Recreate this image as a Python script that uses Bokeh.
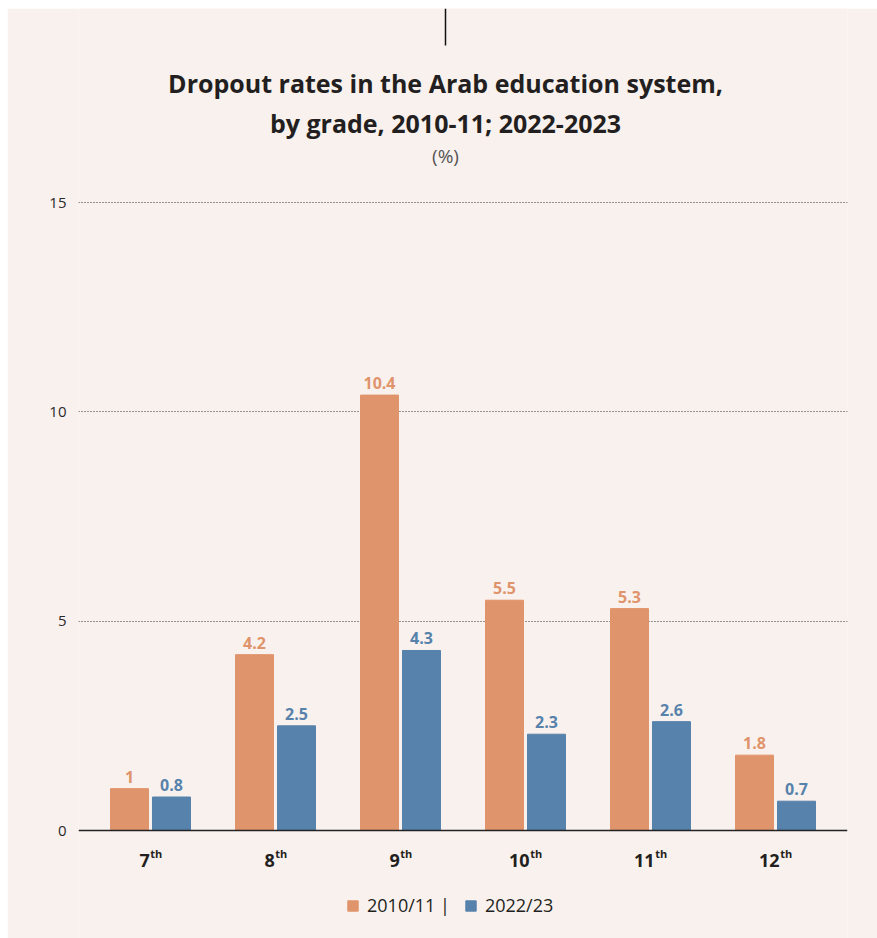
from bokeh.plotting import figure
from bokeh.models import (ColumnDataSource, Label, Legend, LegendItem, FixedTicker,
                          Range1d, Arrow, Span)
from bokeh.embed import file_html
from bokeh.resources import INLINE
from bokeh.core.properties import value

# ---- data ----
grades = ["7", "8", "9", "10", "11", "12"]
suffix = "th"
rates_2010 = [1, 4.2, 10.4, 5.5, 5.3, 1.8]
rates_2022 = [0.8, 2.5, 4.3, 2.3, 2.6, 0.7]
series_names = ["2010/11", "2022/23"]
y_ticks = [0, 5, 10, 15]
title_lines = ["Dropout rates in the Arab education system,",
               "by grade, 2010-11; 2022-2023"]
unit_text = "(%)"

ORANGE = "#e0946b"
BLUE = "#5782ab"
BG = "#f9f1ee"
DARK = "#231f20"
FONT = "Open Sans"

idx = list(range(len(grades)))
off = 0.168
bw = 0.304
src = ColumnDataSource(dict(
    x1=[i - off for i in idx], x2=[i + off for i in idx],
    v1=rates_2010, v2=rates_2022,
    t1=[f"{v:g}" for v in rates_2010], t2=[f"{v:g}" for v in rates_2022],
))

# frame spans full height; value axis 0..15 maps to the plotting band
px_per_unit = (830 - 202) / 15.0
y_lo = -(938 - 830) / px_per_unit
y_hi = 15 + (202 - 8) / px_per_unit

p = figure(width=870, height=930, output_backend="svg", toolbar_location=None,
           x_range=Range1d(-0.576, len(grades) - 1 + 0.576), y_range=Range1d(y_lo, y_hi),
           x_axis_location=None,
           min_border_left=71, min_border_right=30, min_border_top=0, min_border_bottom=0)
p.margin = (8, 0, 0, 7)
p.background_fill_color = BG
p.border_fill_color = BG
p.outline_line_color = None

r1 = p.vbar(x="x1", top="v1", bottom=0, width=bw, source=src, color=ORANGE)
r2 = p.vbar(x="x2", top="v2", bottom=0, width=bw, source=src, color=BLUE)

p.add_layout(Span(location=0, dimension="width", line_color="#222222", line_width=1.5))

p.text(x="x1", y="v1", text="t1", source=src, text_align="center", text_baseline="bottom",
       y_offset=-6, text_color=ORANGE, text_font=value(FONT), text_font_style="bold",
       text_font_size="16px")
p.text(x="x2", y="v2", text="t2", source=src, text_align="center", text_baseline="bottom",
       y_offset=-6, text_color=BLUE, text_font=value(FONT), text_font_style="bold",
       text_font_size="16px")

# y axis
p.yaxis.ticker = FixedTicker(ticks=y_ticks)
p.yaxis.axis_line_color = None
p.yaxis.major_tick_line_color = None
p.yaxis.minor_tick_line_color = None
p.yaxis.major_label_standoff = 6
p.yaxis.major_label_text_font = FONT
p.yaxis.major_label_text_font_size = "15px"
p.yaxis.major_label_text_color = "#2a2a2a"

p.xgrid.grid_line_color = None
p.ygrid.ticker = FixedTicker(ticks=y_ticks[1:])
p.ygrid.grid_line_color = "#333333"
p.ygrid.grid_line_dash = "1 2"
p.ygrid.grid_line_width = 1

# category labels with superscript suffix
for i, g in zip(idx, grades):
    wn = 9.9 * len(g)
    wt = 11.5
    dx = (wn - wt) / 2
    p.add_layout(Label(x=i, y=78, x_units="data", y_units="screen", text=g,
                       x_offset=dx, text_align="right", text_baseline="alphabetic",
                       text_font=FONT, text_font_style="bold", text_font_size="18px",
                       text_color=DARK))
    p.add_layout(Label(x=i, y=85, x_units="data", y_units="screen", text=suffix,
                       x_offset=dx + 0.5, text_align="left", text_baseline="alphabetic",
                       text_font=FONT, text_font_style="bold", text_font_size="11px",
                       text_color=DARK))

# titles
cx = 367
p.add_layout(Label(x=cx, y=856, x_units="screen", y_units="screen", text=title_lines[0],
                   text_align="center", text_baseline="alphabetic", text_font=FONT,
                   text_font_style="bold", text_font_size="25px", text_color=DARK))
p.add_layout(Label(x=cx, y=816, x_units="screen", y_units="screen", text=title_lines[1],
                   text_align="center", text_baseline="alphabetic", text_font=FONT,
                   text_font_style="bold", text_font_size="25px", text_color=DARK))
p.add_layout(Label(x=cx, y=783, x_units="screen", y_units="screen", text=unit_text,
                   text_align="center", text_baseline="middle", text_font=FONT,
                   text_font_size="19px", text_color="#555555"))

# top vertical rule
p.add_layout(Arrow(x_start=cx, y_start=930, x_end=cx, y_end=893,
                   start_units="screen", end_units="screen", start=None, end=None,
                   line_color="#111111", line_width=1.5))

# legend
legend = Legend(items=[LegendItem(label=series_names[0] + " |", renderers=[r1]),
                       LegendItem(label=series_names[1], renderers=[r2])],
                orientation="horizontal", location=(268, 21),
                glyph_width=13, glyph_height=13, label_standoff=8, spacing=14,
                padding=0, margin=0, border_line_color=None, background_fill_alpha=0,
                label_text_font=FONT, label_text_font_size="18px",
                label_text_color=DARK, label_height=20)
p.add_layout(legend, "center")

open("out.html", "w").write(file_html(p, INLINE))
